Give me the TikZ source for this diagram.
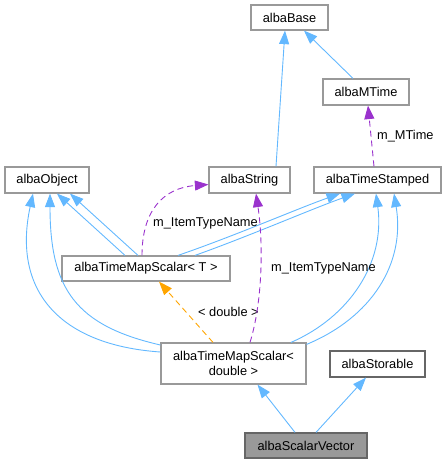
\documentclass[tikz,border=0pt]{standalone}
\usepackage{fontspec}
\setmainfont{Liberation Sans}
\usetikzlibrary{arrows.meta,calc}
\definecolor{edgeblue}{HTML}{63B8FF}
\definecolor{edgepurple}{HTML}{9A32CD}
\definecolor{edgeorange}{HTML}{FFA500}
\definecolor{boxgray}{HTML}{999999}
\definecolor{boxdark}{HTML}{666666}
\tikzset{
  cls/.style={draw=boxgray, line width=1.2pt, fill=white, inner sep=0pt, font=\fontsize{12.8}{14.5}\selectfont, align=center},
  inh/.style={draw=edgeblue, line width=0.9pt, -{Triangle[length=13.5pt,width=10pt]}},
  usep/.style={draw=edgepurple, line width=0.9pt, dash pattern=on 6pt off 4pt, -{Triangle[length=13.5pt,width=10pt]}},
  tmpl/.style={draw=edgeorange, line width=0.9pt, dash pattern=on 6pt off 4pt, -{Triangle[length=13.5pt,width=10pt]}},
  lbl/.style={font=\fontsize{12.8}{14.5}\selectfont, anchor=west, inner sep=0pt}
}
\begin{document}
\begin{tikzpicture}[x=1pt,y=-1pt]
\useasboundingbox (0,0) rectangle (447,464);
\node[cls, minimum width=77pt, minimum height=25pt] (base) at (289.5,17.5) {albaBase};
\node[cls, minimum width=86pt, minimum height=26pt] (mtime) at (366,92) {albaMTime};
\node[cls, minimum width=84pt, minimum height=26pt] (object) at (47,180) {albaObject};
\node[cls, minimum width=81pt, minimum height=26pt] (string) at (249.5,180) {albaString};
\node[cls, minimum width=127pt, minimum height=26pt] (stamped) at (377.5,180) {albaTimeStamped};
\node[cls, minimum width=168pt, minimum height=25pt] (tmsT) at (146,268.5) {albaTimeMapScalar< T >};
\node[cls, minimum width=145pt, minimum height=41pt] (tmsD) at (233.5,363.5) {albaTimeMapScalar<\\double >};
\node[cls, draw=boxdark, minimum width=95pt, minimum height=26pt] (storable) at (377.5,364) {albaStorable};
\node[cls, draw=boxdark, fill=boxgray, minimum width=122pt, minimum height=25pt] (vector) at (306,445.5) {albaScalarVector};

% albaString -> albaBase
\draw[inh] ($(string.north)+(26.5,0)$) -- ($(base.south)+(-4.5,0)$);
% albaMTime -> albaBase
\draw[inh] ($(mtime.north)+(-13,0)$) -- ($(base.south)+(14.5,0)$);
% albaTimeStamped -> albaMTime (member)
\draw[usep] ($(stamped.north)+(-3.5,0)$) -- ($(mtime.south)+(2,0)$);
\node[lbl] (lmtime) at (377,136) {m\_MTime};

% albaTimeMapScalar<T> -> albaObject
\draw[inh] ($(tmsT.north)+(-21,0)$) -- ($(object.south)+(10,0)$);
\draw[inh] ($(tmsT.north)+(-8,0)$) -- ($(object.south)+(23,0)$);
% albaTimeMapScalar<T> -> albaTimeStamped
\draw[inh] ($(tmsT.north)+(32,0)$) .. controls ($(tmsT.north)+(90,-20)$) and ($(stamped.south)+(-80,15)$) .. ($(stamped.south)+(-37.5,0)$);
\draw[inh] ($(tmsT.north)+(49,0)$) .. controls ($(tmsT.north)+(105,-20)$) and ($(stamped.south)+(-65,15)$) .. ($(stamped.south)+(-22.5,0)$);
% albaTimeMapScalar<T> -> albaString (member)
\draw[usep] ($(tmsT.north)+(-4,0)$) .. controls ($(tmsT.north)+(-4,-45)$) and ($(string.west)+(-45,8)$) .. ($(string.west)+(0,4.5)$);
\node[lbl] (litemA) at (153,223) {m\_ItemTypeName};

% albaTimeMapScalar<double> -> albaObject
\draw[inh] ($(tmsD.west)+(0,-11.5)$) .. controls ($(tmsD.west)+(-101,-18.5)$) and ($(object.south)+(-35,97)$) .. ($(object.south)+(-14,0)$);
\draw[inh] ($(tmsD.west)+(0,-18.5)$) .. controls ($(tmsD.west)+(-85,-38)$) and ($(object.south)+(3,95)$) .. ($(object.south)+(3,0)$);
% albaTimeMapScalar<double> -> albaTimeStamped
\draw[inh] ($(tmsD.north)+(57.5,0)$) .. controls ($(tmsD.north)+(115,-25)$) and ($(stamped.south)+(8,70)$) .. ($(stamped.south)+(-1.5,0)$);
\draw[inh] ($(tmsD.north east)+(0,2)$) .. controls ($(tmsD.north east)+(65,-25)$) and ($(stamped.south)+(28,70)$) .. ($(stamped.south)+(16.5,0)$);
% albaTimeMapScalar<double> -> albaTimeMapScalar<T> (template)
\draw[tmpl] ($(tmsD.north)+(-20.5,0)$) -- ($(tmsT.south)+(13,0)$);
\node[lbl] (ldouble) at (198,312) {< double >};
% albaTimeMapScalar<double> -> albaString (member)
\draw[usep] ($(tmsD.north)+(16.5,0)$) .. controls ($(tmsD.north)+(29,-40)$) and ($(string.south)+(14,50)$) .. ($(string.south)+(6.5,0)$);
\node[lbl] (litemB) at (271,268) {m\_ItemTypeName};

% albaScalarVector -> parents
\draw[inh] ($(vector.north)+(-11,0)$) -- ($(tmsD.south)+(24,0)$);
\draw[inh] ($(vector.north)+(10,0)$) -- ($(storable.south)+(-11.5,0)$);
\end{tikzpicture}
\end{document}
